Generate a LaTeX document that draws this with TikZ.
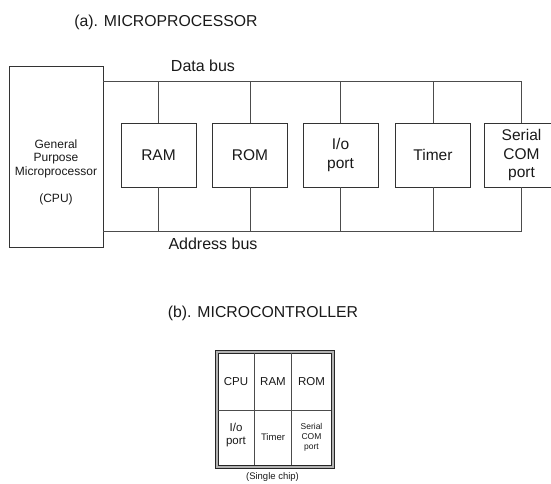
\documentclass[tikz,border=0pt]{standalone}
\usepackage{fontspec}
\setmainfont{Liberation Sans}
\begin{document}
\begin{tikzpicture}[x=1pt,y=-1pt,
  wire/.style={draw=black!70, line width=1pt},
  unitbox/.style={draw=black!80, line width=0.95pt, minimum width=75pt,
    minimum height=64pt, inner sep=0pt, align=center, text=black!90,
    font=\fontsize{15.5}{18.5}\selectfont},
  title/.style={inner sep=0pt, text=black!90, font=\fontsize{15.8}{18}\selectfont},
  buslabel/.style={inner sep=0pt, text=black!90, font=\fontsize{16}{18}\selectfont},
  cell/.style={inner sep=0pt, align=center, text=black!90},
]
\useasboundingbox (0,0) rectangle (551,483);
\clip (0,0) rectangle (551,483);

% ---------- (a) microprocessor system ----------
\node[title] (ta) at (166,22) {(a). MICROPROCESSOR};

\node[draw=black!80, line width=0.95pt, minimum width=94pt, minimum height=181pt,
  inner sep=0pt] (cpu) at (56,156.5) {};
\node[cell, font=\fontsize{12}{13.6}\selectfont] (cputext) at (56,172)
  {General\\Purpose\\Microprocessor\\[13pt](CPU)};

\node[unitbox] (ram)    at (158.5,155) {RAM};
\node[unitbox] (rom)    at (250,155)   {ROM};
\node[unitbox] (io)     at (340.5,155) {I/o\\port};
\node[unitbox] (timer)  at (433,155)   {Timer};
\node[unitbox] (serial) at (521.5,155) {Serial\\COM\\port};

\coordinate (dEnd) at (522,81);
\coordinate (aEnd) at (522,231);

\draw[wire] (cpu.east |- dEnd) -- (dEnd);
\draw[wire] (cpu.east |- aEnd) -- (aEnd);
\foreach \u in {ram,rom,io,timer,serial}{
  \draw[wire] (\u.north) -- (\u.north |- dEnd);
  \draw[wire] (\u.south) -- (\u.south |- aEnd);
}

\node[buslabel] (dlabel) at (203,66)  {Data bus};
\node[buslabel] (alabel) at (213,244) {Address bus};

% ---------- (b) microcontroller chip ----------
\node[title] (tb) at (263,313) {(b). MICROCONTROLLER};

\node[draw=black!85, line width=0.9pt, fill=black!30, minimum width=119pt,
  minimum height=118pt, inner sep=0pt] (chip) at (274.5,409) {};
\node[draw=black!85, line width=0.9pt, fill=white, minimum width=113pt,
  minimum height=112pt, inner sep=0pt] (chipin) at (274.5,409) {};

\draw[wire, line width=0.9pt] (254.3,353) -- (254.3,465);
\draw[wire, line width=0.9pt] (291.7,353) -- (291.7,465);
\draw[wire, line width=0.9pt] (chipin.west |- 0,410) -- (chipin.east |- 0,410);

\node[cell, font=\fontsize{11.5}{13}\selectfont] (c1) at (236,381.5)   {CPU};
\node[cell, font=\fontsize{11.5}{13}\selectfont] (c2) at (273,381.5)   {RAM};
\node[cell, font=\fontsize{11.5}{13}\selectfont] (c3) at (311.5,381.5) {ROM};
\node[cell, font=\fontsize{11.5}{12.5}\selectfont] (c4) at (236,435) {I/o\\port};
\node[cell, font=\fontsize{9.5}{11}\selectfont] (c5) at (273,437) {Timer};
\node[cell, font=\fontsize{8.5}{10}\selectfont] (c6) at (311.5,437) {Serial\\COM\\port};

\node[cell, font=\fontsize{9.5}{11}\selectfont] (chiplabel) at (272.5,477) {(Single chip)};
\end{tikzpicture}
\end{document}
